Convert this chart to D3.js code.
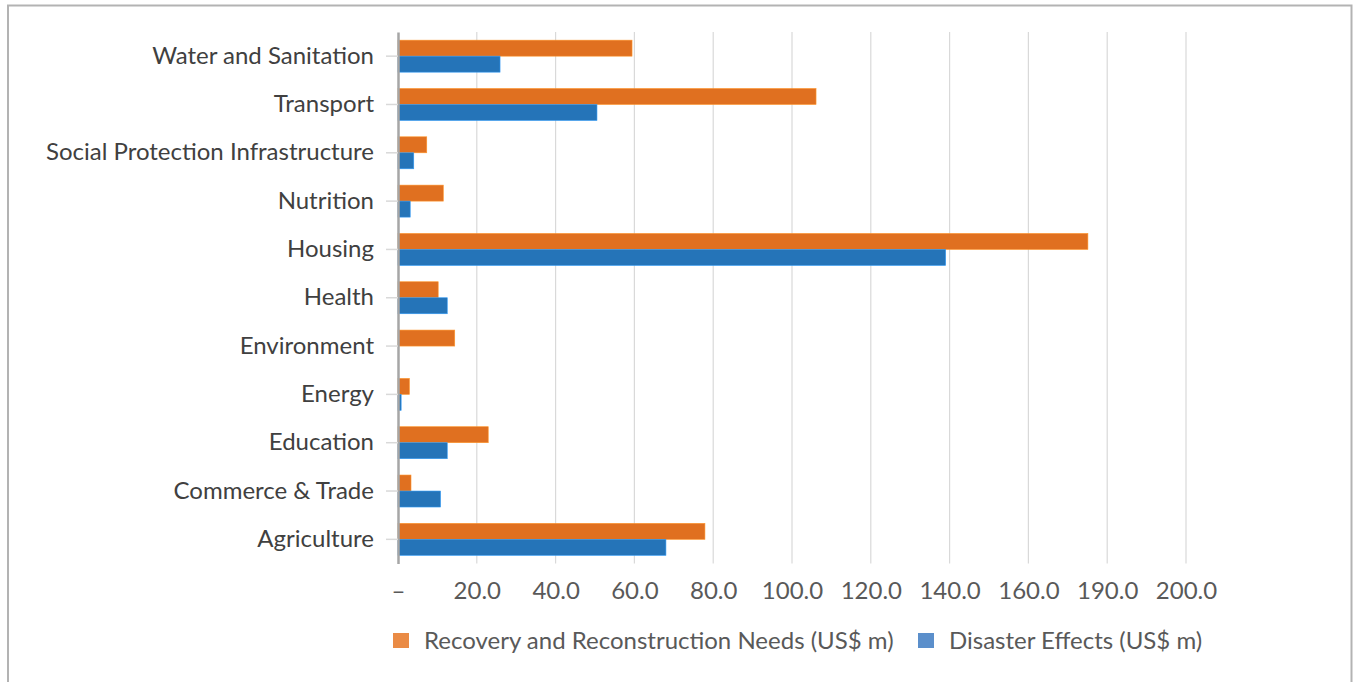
<!DOCTYPE html>
<html>
<head>
<meta charset="utf-8">
<script src="https://cdn.jsdelivr.net/npm/d3@7"></script>
<style>
  body { margin: 0; background: #fff; }
  svg { display: block; font-family: Lato, "Open Sans", sans-serif; }
  .cat-label { font-size: 24px; fill: #404040; }
  .tick-label { font-size: 24px; fill: #595959; }
  .legend-label { font-size: 24px; fill: #595959; }
</style>
</head>
<body>
<svg id="chart" width="1353" height="682"></svg>
<script>
// sectors, top to bottom
const sectors = [
  'Water and Sanitation', 'Transport', 'Social Protection Infrastructure', 'Nutrition',
  'Housing', 'Health', 'Environment', 'Energy', 'Education', 'Commerce & Trade', 'Agriculture'
];
const recoveryNeeds = [59.4, 106.1, 7.3, 11.5, 175.1, 10.2, 14.4, 2.9, 22.9, 3.3, 77.9];
const disasterEffects = [25.9, 50.5, 4.0, 3.1, 139.0, 12.5, 0, 0.8, 12.5, 10.8, 68.0];
const tickValues = [0, 20, 40, 60, 80, 100, 120, 140, 160, 180, 200];
const tickLabels = ['–', '20.0', '40.0', '60.0', '80.0', '100.0', '120.0', '140.0', '160.0', '190.0', '200.0'];

const series = [
  { name: 'Recovery and Reconstruction Needs (US$ m)', values: recoveryNeeds, color: '#e07020', legendColor: '#ea8b45' },
  { name: 'Disaster Effects (US$ m)', values: disasterEffects, color: '#2574b8', legendColor: '#5b8fcb' }
];

const svg = d3.select('#chart');

// outer frame
svg.append('rect')
  .attr('x', 8).attr('y', 5.5)
  .attr('width', 1343.5).attr('height', 700)
  .attr('fill', 'none')
  .attr('stroke', '#b3b3b3')
  .attr('stroke-width', 2);

const x = d3.scaleLinear().domain([0, 200]).range([398, 1186]);
const y = d3.scaleBand().domain(sectors).range([32, 563.5]).padding(0);
const barH = 16;

// gridlines
svg.append('g')
  .selectAll('line')
  .data(tickValues.slice(1))
  .join('line')
  .attr('x1', d => x(d)).attr('x2', d => x(d))
  .attr('y1', 32).attr('y2', 563.5)
  .attr('stroke', '#d9d9d9')
  .attr('stroke-width', 1.2);

// bars
const groups = svg.append('g')
  .selectAll('g')
  .data(sectors)
  .join('g')
  .attr('transform', d => `translate(0,${y(d) + y.bandwidth() / 2})`);

series.forEach((s, si) => {
  groups.append('rect')
    .attr('x', x(0))
    .attr('y', si === 0 ? -barH : 0)
    .attr('width', (d, i) => x(s.values[i]) - x(0))
    .attr('height', barH)
    .attr('fill', s.color)
    .attr('stroke', d3.color(s.color).brighter(0.8))
    .attr('stroke-width', 0.6)
    .attr('display', (d, i) => s.values[i] > 0 ? null : 'none');
});

// category axis
const yAxis = svg.append('g')
  .attr('transform', `translate(${x(0)},0)`)
  .call(d3.axisLeft(y).tickSize(12).tickSizeOuter(0).tickPadding(12))
  .attr('font-family', null)
  .attr('font-size', null);
yAxis.select('.domain').attr('stroke', '#a6a6a6').attr('stroke-width', 2.5);
yAxis.selectAll('.tick line').attr('stroke', '#d9d9d9').attr('stroke-width', 1.5);
yAxis.selectAll('.tick text')
  .attr('class', 'cat-label')
  .attr('fill', null);

// value axis labels
const xAxis = svg.append('g')
  .attr('transform', 'translate(0,563.5)')
  .call(d3.axisBottom(x).tickValues(tickValues).tickSize(0).tickPadding(18)
    .tickFormat((d, i) => tickLabels[i]))
  .attr('font-family', null)
  .attr('font-size', null);
xAxis.select('.domain').remove();
xAxis.selectAll('.tick text')
  .attr('class', 'tick-label')
  .attr('fill', null);

// legend
const legendX = [393, 918];
const legend = svg.append('g')
  .selectAll('g')
  .data(series)
  .join('g')
  .attr('transform', (d, i) => `translate(${legendX[i]},633)`);
legend.append('rect')
  .attr('width', 16).attr('height', 15)
  .attr('fill', d => d.legendColor);
legend.append('text')
  .attr('class', 'legend-label')
  .attr('x', 31).attr('y', 16)
  .text(d => d.name);
</script>
</body>
</html>
